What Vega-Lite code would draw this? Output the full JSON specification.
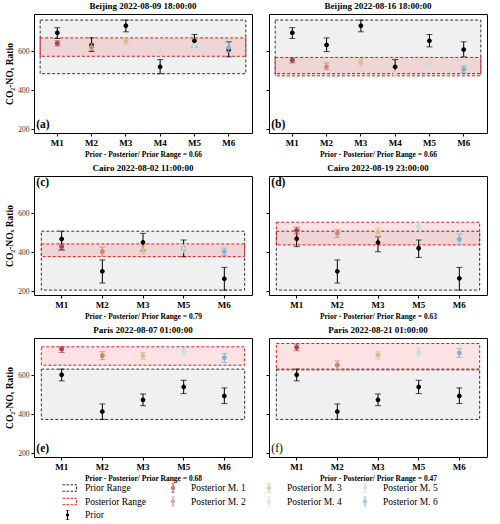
{
"$schema": "https://vega.github.io/schema/vega-lite/v6.json",
"background": "white",
"padding": {"left": 4, "top": 1, "right": 4, "bottom": 2},
"datasets": {
"pts": [
{"panel":"a","model":"M1","series":"Prior","value":694,"lo":665,"hi":720},
{"panel":"a","model":"M2","series":"Prior","value":632,"lo":598,"hi":668},
{"panel":"a","model":"M3","series":"Prior","value":730,"lo":699,"hi":759},
{"panel":"a","model":"M4","series":"Prior","value":520,"lo":485,"hi":557},
{"panel":"a","model":"M5","series":"Prior","value":653,"lo":622,"hi":685},
{"panel":"a","model":"M6","series":"Prior","value":608,"lo":571,"hi":648},
{"panel":"a","model":"M1","series":"Posterior M. 1","value":640,"lo":627,"hi":653},
{"panel":"a","model":"M2","series":"Posterior M. 2","value":620,"lo":603,"hi":640},
{"panel":"a","model":"M3","series":"Posterior M. 3","value":651,"lo":633,"hi":668},
{"panel":"a","model":"M4","series":"Posterior M. 4","value":596,"lo":580,"hi":615},
{"panel":"a","model":"M5","series":"Posterior M. 5","value":627,"lo":614,"hi":640},
{"panel":"a","model":"M6","series":"Posterior M. 6","value":618,"lo":595,"hi":645},
{"panel":"b","model":"M1","series":"Prior","value":694,"lo":665,"hi":720},
{"panel":"b","model":"M2","series":"Prior","value":632,"lo":598,"hi":668},
{"panel":"b","model":"M3","series":"Prior","value":730,"lo":699,"hi":759},
{"panel":"b","model":"M4","series":"Prior","value":520,"lo":485,"hi":557},
{"panel":"b","model":"M5","series":"Prior","value":653,"lo":622,"hi":685},
{"panel":"b","model":"M6","series":"Prior","value":608,"lo":571,"hi":648},
{"panel":"b","model":"M1","series":"Posterior M. 1","value":554,"lo":540,"hi":566},
{"panel":"b","model":"M2","series":"Posterior M. 2","value":520,"lo":505,"hi":540},
{"panel":"b","model":"M3","series":"Posterior M. 3","value":545,"lo":525,"hi":562},
{"panel":"b","model":"M4","series":"Posterior M. 4","value":485,"lo":472,"hi":503},
{"panel":"b","model":"M5","series":"Posterior M. 5","value":537,"lo":518,"hi":557},
{"panel":"b","model":"M6","series":"Posterior M. 6","value":508,"lo":492,"hi":525},
{"panel":"c","model":"M1","series":"Prior","value":468,"lo":412,"hi":508},
{"panel":"c","model":"M2","series":"Prior","value":303,"lo":243,"hi":361},
{"panel":"c","model":"M3","series":"Prior","value":451,"lo":408,"hi":497},
{"panel":"c","model":"M5","series":"Prior","value":420,"lo":377,"hi":463},
{"panel":"c","model":"M6","series":"Prior","value":265,"lo":207,"hi":323},
{"panel":"c","model":"M1","series":"Posterior M. 1","value":429,"lo":412,"hi":443},
{"panel":"c","model":"M2","series":"Posterior M. 2","value":403,"lo":380,"hi":426},
{"panel":"c","model":"M3","series":"Posterior M. 3","value":414,"lo":393,"hi":434},
{"panel":"c","model":"M5","series":"Posterior M. 5","value":420,"lo":398,"hi":439},
{"panel":"c","model":"M6","series":"Posterior M. 6","value":403,"lo":384,"hi":422},
{"panel":"d","model":"M1","series":"Prior","value":470,"lo":429,"hi":515},
{"panel":"d","model":"M2","series":"Prior","value":303,"lo":243,"hi":361},
{"panel":"d","model":"M3","series":"Prior","value":450,"lo":403,"hi":480},
{"panel":"d","model":"M5","series":"Prior","value":421,"lo":374,"hi":463},
{"panel":"d","model":"M6","series":"Prior","value":267,"lo":207,"hi":323},
{"panel":"d","model":"M1","series":"Posterior M. 1","value":511,"lo":494,"hi":528},
{"panel":"d","model":"M2","series":"Posterior M. 2","value":497,"lo":476,"hi":515},
{"panel":"d","model":"M3","series":"Posterior M. 3","value":503,"lo":479,"hi":525},
{"panel":"d","model":"M5","series":"Posterior M. 5","value":532,"lo":515,"hi":554},
{"panel":"d","model":"M6","series":"Posterior M. 6","value":467,"lo":440,"hi":494},
{"panel":"e","model":"M1","series":"Prior","value":602,"lo":571,"hi":631},
{"panel":"e","model":"M2","series":"Prior","value":414,"lo":374,"hi":453},
{"panel":"e","model":"M3","series":"Prior","value":474,"lo":444,"hi":504},
{"panel":"e","model":"M5","series":"Prior","value":540,"lo":506,"hi":574},
{"panel":"e","model":"M6","series":"Prior","value":494,"lo":455,"hi":535},
{"panel":"e","model":"M1","series":"Posterior M. 1","value":733,"lo":716,"hi":745},
{"panel":"e","model":"M2","series":"Posterior M. 2","value":699,"lo":679,"hi":720},
{"panel":"e","model":"M3","series":"Posterior M. 3","value":699,"lo":682,"hi":716},
{"panel":"e","model":"M5","series":"Posterior M. 5","value":721,"lo":704,"hi":737},
{"panel":"e","model":"M6","series":"Posterior M. 6","value":689,"lo":665,"hi":711},
{"panel":"f","model":"M1","series":"Prior","value":602,"lo":571,"hi":631},
{"panel":"f","model":"M2","series":"Prior","value":414,"lo":374,"hi":453},
{"panel":"f","model":"M3","series":"Prior","value":474,"lo":444,"hi":504},
{"panel":"f","model":"M5","series":"Prior","value":540,"lo":506,"hi":574},
{"panel":"f","model":"M6","series":"Prior","value":494,"lo":455,"hi":535},
{"panel":"f","model":"M1","series":"Posterior M. 1","value":742,"lo":725,"hi":759},
{"panel":"f","model":"M2","series":"Posterior M. 2","value":651,"lo":628,"hi":673},
{"panel":"f","model":"M3","series":"Posterior M. 3","value":703,"lo":682,"hi":720},
{"panel":"f","model":"M5","series":"Posterior M. 5","value":716,"lo":699,"hi":737},
{"panel":"f","model":"M6","series":"Posterior M. 6","value":713,"lo":691,"hi":737}
],
"boxes": [
{"panel":"a","series":"Prior Range","model":"M1","last":"M6","lo":485,"hi":759,"tag":"(a)"},
{"panel":"a","series":"Posterior Range","model":"M1","last":"M6","lo":574,"hi":668,"tag":"(a)"},
{"panel":"b","series":"Prior Range","model":"M1","last":"M6","lo":485,"hi":759,"tag":"(b)"},
{"panel":"b","series":"Posterior Range","model":"M1","last":"M6","lo":474,"hi":568,"tag":"(b)"},
{"panel":"c","series":"Prior Range","model":"M1","last":"M6","lo":207,"hi":508,"tag":"(c)"},
{"panel":"c","series":"Posterior Range","model":"M1","last":"M6","lo":378,"hi":443,"tag":"(c)"},
{"panel":"d","series":"Prior Range","model":"M1","last":"M6","lo":207,"hi":508,"tag":"(d)"},
{"panel":"d","series":"Posterior Range","model":"M1","last":"M6","lo":438,"hi":554,"tag":"(d)"},
{"panel":"e","series":"Prior Range","model":"M1","last":"M6","lo":374,"hi":631,"tag":"(e)"},
{"panel":"e","series":"Posterior Range","model":"M1","last":"M6","lo":651,"hi":745,"tag":"(e)"},
{"panel":"f","series":"Prior Range","model":"M1","last":"M6","lo":374,"hi":631,"tag":"(f)"},
{"panel":"f","series":"Posterior Range","model":"M1","last":"M6","lo":627,"hi":762,"tag":"(f)"}
]
},
"spacing": 5,
"vconcat": [
{"hconcat": [
{"width": 218, "height": 119, "title": "Beijing 2022-08-09 18:00:00",
"layer": [
{"data": {"name": "boxes"}, "transform": [{"filter": "datum.panel == 'a'"}],
"mark": {"type": "rect", "strokeDash": [3, 2], "strokeWidth": 1},
"encoding": {
"x": {"field": "model", "type": "nominal", "bandPosition": 0, "title": "Prior - Posterior/ Prior Range = 0.66", "scale": {"type": "band", "paddingInner": 0, "paddingOuter": 0.18}},
"x2": {"field": "last", "bandPosition": 1},
"y": {"field": "lo", "type": "quantitative", "title": "CO₂-NOₓ Ratio", "scale": {"domain": [182, 790], "nice": false, "zero": false}, "axis": {"values": [200, 400, 600]}},
"y2": {"field": "hi"},
"fill": {"field": "series", "type": "nominal", "scale": {"domain": ["Posterior Range", "Prior Range"], "range": ["rgba(232,60,70,0.15)", "#f0f0f0"]}, "legend": null},
"stroke": {"field": "series", "type": "nominal", "scale": {"domain": ["Prior Range", "Posterior Range"], "range": ["#333333", "#e41a1c"]},
"legend": {"orient": "none", "legendX": 28, "legendY": 469, "title": null, "direction": "vertical", "symbolSize": 100, "clipHeight": 10, "labelOffset": 12, "rowPadding": 3.5, "symbolType": "M-1.8,-0.65H1.8V0.65H-1.8Z", "symbolDash": [2.5, 1.5], "symbolFillColor": "#ffffff", "symbolStrokeWidth": 1}}
}},
{"data": {"name": "pts"}, "transform": [{"filter": "datum.panel == 'a' && datum.series == 'Prior'"}],
"mark": {"type": "errorbar", "color": "#000000", "ticks": true, "size": 6, "thickness": 1},
"encoding": {"x": {"field": "model", "type": "nominal", "title": "Prior - Posterior/ Prior Range = 0.66"}, "y": {"field": "lo", "type": "quantitative", "title": "CO₂-NOₓ Ratio"}, "y2": {"field": "hi"}}},
{"data": {"name": "pts"}, "transform": [{"filter": "datum.panel == 'a' && datum.series == 'Prior'"}],
"mark": {"type": "point", "filled": false, "fill": "#000000", "color": "#000000", "strokeWidth": 1, "size": 15, "opacity": 1},
"encoding": {"x": {"field": "model", "type": "nominal", "title": "Prior - Posterior/ Prior Range = 0.66"}, "y": {"field": "value", "type": "quantitative", "title": "CO₂-NOₓ Ratio"},
"opacity": {"field": "series", "type": "ordinal", "scale": {"domain": ["Prior"], "range": [1]},
"legend": {"orient": "none", "legendX": 28, "legendY": 496, "title": null, "symbolSize": 100, "clipHeight": 10, "labelOffset": 12, "symbolType": "M0,-1V1M-0.35,-1H0.35M-0.35,1H0.35M-0.25,0A0.25,0.25 0 1,1 0.25,0A0.25,0.25 0 1,1 -0.25,0Z", "symbolStrokeWidth": 1}}}},
{"data": {"name": "pts"}, "transform": [{"filter": "datum.panel == 'a' && datum.series != 'Prior'"}],
"mark": {"type": "errorbar", "ticks": true, "size": 6, "thickness": 1},
"encoding": {"x": {"field": "model", "type": "nominal", "title": "Prior - Posterior/ Prior Range = 0.66"}, "y": {"field": "lo", "type": "quantitative", "title": "CO₂-NOₓ Ratio"}, "y2": {"field": "hi"},
"color": {"field": "series", "type": "nominal", "scale": {"domain": ["Posterior M. 1", "Posterior M. 2", "Posterior M. 3", "Posterior M. 4", "Posterior M. 5", "Posterior M. 6"], "range": ["#a9444e", "#c98570", "#e0b98c", "#e0dcb8", "#c4dfdc", "#7fb2d3"]},
"legend": {"orient": "none", "legendX": 133, "legendY": 469, "title": null, "columns": 3, "symbolSize": 100, "clipHeight": 10, "labelOffset": 12, "rowPadding": 3.5, "columnPadding": 17, "symbolType": "M0,-1V1M-0.35,-1H0.35M-0.35,1H0.35M-0.3,0A0.3,0.3 0 1,1 0.3,0A0.3,0.3 0 1,1 -0.3,0Z"}}}},
{"data": {"name": "pts"}, "transform": [{"filter": "datum.panel == 'a' && datum.series != 'Prior'"}],
"mark": {"type": "point", "filled": true, "size": 24, "opacity": 1},
"encoding": {"x": {"field": "model", "type": "nominal", "title": "Prior - Posterior/ Prior Range = 0.66"}, "y": {"field": "value", "type": "quantitative", "title": "CO₂-NOₓ Ratio"}, "color": {"field": "series", "type": "nominal"}}},
{"data": {"name": "boxes"}, "transform": [{"filter": "datum.panel == 'a' && datum.series == 'Prior Range'"}],
"mark": {"type": "text", "font": "Liberation Serif", "fontWeight": "bold", "fontSize": 11.5, "align": "left", "baseline": "middle", "dx": -4},
"encoding": {"x": {"field": "model", "type": "nominal", "bandPosition": 0, "title": "Prior - Posterior/ Prior Range = 0.66"}, "y": {"datum": 222, "type": "quantitative", "title": "CO₂-NOₓ Ratio"}, "text": {"field": "tag"}}}
]},
{"width": 218, "height": 119, "title": "Beijing 2022-08-16 18:00:00",
"layer": [
{"data": {"name": "boxes"}, "transform": [{"filter": "datum.panel == 'b'"}],
"mark": {"type": "rect", "strokeDash": [3, 2], "strokeWidth": 1},
"encoding": {
"x": {"field": "model", "type": "nominal", "bandPosition": 0, "title": "Prior - Posterior/ Prior Range = 0.66", "scale": {"type": "band", "paddingInner": 0, "paddingOuter": 0.18}},
"x2": {"field": "last", "bandPosition": 1},
"y": {"field": "lo", "type": "quantitative", "title": null, "scale": {"domain": [182, 790], "nice": false, "zero": false}, "axis": {"values": [200, 400, 600], "labels": false}},
"y2": {"field": "hi"},
"fill": {"field": "series", "type": "nominal", "legend": null},
"stroke": {"field": "series", "type": "nominal"}
}},
{"data": {"name": "pts"}, "transform": [{"filter": "datum.panel == 'b' && datum.series == 'Prior'"}],
"mark": {"type": "errorbar", "color": "#000000", "ticks": true, "size": 6, "thickness": 1},
"encoding": {"x": {"field": "model", "type": "nominal", "title": "Prior - Posterior/ Prior Range = 0.66"}, "y": {"field": "lo", "type": "quantitative", "title": null}, "y2": {"field": "hi"}}},
{"data": {"name": "pts"}, "transform": [{"filter": "datum.panel == 'b' && datum.series == 'Prior'"}],
"mark": {"type": "point", "filled": false, "fill": "#000000", "color": "#000000", "strokeWidth": 1, "size": 15, "opacity": 1},
"encoding": {"x": {"field": "model", "type": "nominal", "title": "Prior - Posterior/ Prior Range = 0.66"}, "y": {"field": "value", "type": "quantitative", "title": null}}},
{"data": {"name": "pts"}, "transform": [{"filter": "datum.panel == 'b' && datum.series != 'Prior'"}],
"mark": {"type": "errorbar", "ticks": true, "size": 6, "thickness": 1},
"encoding": {"x": {"field": "model", "type": "nominal", "title": "Prior - Posterior/ Prior Range = 0.66"}, "y": {"field": "lo", "type": "quantitative", "title": null}, "y2": {"field": "hi"}, "color": {"field": "series", "type": "nominal"}}},
{"data": {"name": "pts"}, "transform": [{"filter": "datum.panel == 'b' && datum.series != 'Prior'"}],
"mark": {"type": "point", "filled": true, "size": 24, "opacity": 1},
"encoding": {"x": {"field": "model", "type": "nominal", "title": "Prior - Posterior/ Prior Range = 0.66"}, "y": {"field": "value", "type": "quantitative", "title": null}, "color": {"field": "series", "type": "nominal"}}},
{"data": {"name": "boxes"}, "transform": [{"filter": "datum.panel == 'b' && datum.series == 'Prior Range'"}],
"mark": {"type": "text", "font": "Liberation Serif", "fontWeight": "bold", "fontSize": 11.5, "align": "left", "baseline": "middle", "dx": -4},
"encoding": {"x": {"field": "model", "type": "nominal", "bandPosition": 0, "title": "Prior - Posterior/ Prior Range = 0.66"}, "y": {"datum": 222, "type": "quantitative", "title": null}, "text": {"field": "tag"}}}
]}
], "spacing": 12},
{"hconcat": [
{"width": 218, "height": 119, "title": "Cairo 2022-08-02 11:00:00",
"layer": [
{"data": {"name": "boxes"}, "transform": [{"filter": "datum.panel == 'c'"}],
"mark": {"type": "rect", "strokeDash": [3, 2], "strokeWidth": 1},
"encoding": {
"x": {"field": "model", "type": "nominal", "bandPosition": 0, "title": "Prior - Posterior/ Prior Range = 0.79", "scale": {"type": "band", "paddingInner": 0, "paddingOuter": 0.18}},
"x2": {"field": "last", "bandPosition": 1},
"y": {"field": "lo", "type": "quantitative", "title": "CO₂-NOₓ Ratio", "scale": {"domain": [182, 790], "nice": false, "zero": false}, "axis": {"values": [200, 400, 600]}},
"y2": {"field": "hi"},
"fill": {"field": "series", "type": "nominal", "legend": null},
"stroke": {"field": "series", "type": "nominal"}
}},
{"data": {"name": "pts"}, "transform": [{"filter": "datum.panel == 'c' && datum.series == 'Prior'"}],
"mark": {"type": "errorbar", "color": "#000000", "ticks": true, "size": 6, "thickness": 1},
"encoding": {"x": {"field": "model", "type": "nominal", "title": "Prior - Posterior/ Prior Range = 0.79"}, "y": {"field": "lo", "type": "quantitative", "title": "CO₂-NOₓ Ratio"}, "y2": {"field": "hi"}}},
{"data": {"name": "pts"}, "transform": [{"filter": "datum.panel == 'c' && datum.series == 'Prior'"}],
"mark": {"type": "point", "filled": false, "fill": "#000000", "color": "#000000", "strokeWidth": 1, "size": 15, "opacity": 1},
"encoding": {"x": {"field": "model", "type": "nominal", "title": "Prior - Posterior/ Prior Range = 0.79"}, "y": {"field": "value", "type": "quantitative", "title": "CO₂-NOₓ Ratio"}}},
{"data": {"name": "pts"}, "transform": [{"filter": "datum.panel == 'c' && datum.series != 'Prior'"}],
"mark": {"type": "errorbar", "ticks": true, "size": 6, "thickness": 1},
"encoding": {"x": {"field": "model", "type": "nominal", "title": "Prior - Posterior/ Prior Range = 0.79"}, "y": {"field": "lo", "type": "quantitative", "title": "CO₂-NOₓ Ratio"}, "y2": {"field": "hi"}, "color": {"field": "series", "type": "nominal"}}},
{"data": {"name": "pts"}, "transform": [{"filter": "datum.panel == 'c' && datum.series != 'Prior'"}],
"mark": {"type": "point", "filled": true, "size": 24, "opacity": 1},
"encoding": {"x": {"field": "model", "type": "nominal", "title": "Prior - Posterior/ Prior Range = 0.79"}, "y": {"field": "value", "type": "quantitative", "title": "CO₂-NOₓ Ratio"}, "color": {"field": "series", "type": "nominal"}}},
{"data": {"name": "boxes"}, "transform": [{"filter": "datum.panel == 'c' && datum.series == 'Prior Range'"}],
"mark": {"type": "text", "font": "Liberation Serif", "fontWeight": "bold", "fontSize": 11.5, "align": "left", "baseline": "middle", "dx": -5},
"encoding": {"x": {"field": "model", "type": "nominal", "bandPosition": 0, "title": "Prior - Posterior/ Prior Range = 0.79"}, "y": {"datum": 752, "type": "quantitative", "title": "CO₂-NOₓ Ratio"}, "text": {"field": "tag"}}}
]},
{"width": 218, "height": 119, "title": "Cairo 2022-08-19 23:00:00",
"layer": [
{"data": {"name": "boxes"}, "transform": [{"filter": "datum.panel == 'd'"}],
"mark": {"type": "rect", "strokeDash": [3, 2], "strokeWidth": 1},
"encoding": {
"x": {"field": "model", "type": "nominal", "bandPosition": 0, "title": "Prior - Posterior/ Prior Range = 0.63", "scale": {"type": "band", "paddingInner": 0, "paddingOuter": 0.18}},
"x2": {"field": "last", "bandPosition": 1},
"y": {"field": "lo", "type": "quantitative", "title": null, "scale": {"domain": [182, 790], "nice": false, "zero": false}, "axis": {"values": [200, 400, 600], "labels": false}},
"y2": {"field": "hi"},
"fill": {"field": "series", "type": "nominal", "legend": null},
"stroke": {"field": "series", "type": "nominal"}
}},
{"data": {"name": "pts"}, "transform": [{"filter": "datum.panel == 'd' && datum.series == 'Prior'"}],
"mark": {"type": "errorbar", "color": "#000000", "ticks": true, "size": 6, "thickness": 1},
"encoding": {"x": {"field": "model", "type": "nominal", "title": "Prior - Posterior/ Prior Range = 0.63"}, "y": {"field": "lo", "type": "quantitative", "title": null}, "y2": {"field": "hi"}}},
{"data": {"name": "pts"}, "transform": [{"filter": "datum.panel == 'd' && datum.series == 'Prior'"}],
"mark": {"type": "point", "filled": false, "fill": "#000000", "color": "#000000", "strokeWidth": 1, "size": 15, "opacity": 1},
"encoding": {"x": {"field": "model", "type": "nominal", "title": "Prior - Posterior/ Prior Range = 0.63"}, "y": {"field": "value", "type": "quantitative", "title": null}}},
{"data": {"name": "pts"}, "transform": [{"filter": "datum.panel == 'd' && datum.series != 'Prior'"}],
"mark": {"type": "errorbar", "ticks": true, "size": 6, "thickness": 1},
"encoding": {"x": {"field": "model", "type": "nominal", "title": "Prior - Posterior/ Prior Range = 0.63"}, "y": {"field": "lo", "type": "quantitative", "title": null}, "y2": {"field": "hi"}, "color": {"field": "series", "type": "nominal"}}},
{"data": {"name": "pts"}, "transform": [{"filter": "datum.panel == 'd' && datum.series != 'Prior'"}],
"mark": {"type": "point", "filled": true, "size": 24, "opacity": 1},
"encoding": {"x": {"field": "model", "type": "nominal", "title": "Prior - Posterior/ Prior Range = 0.63"}, "y": {"field": "value", "type": "quantitative", "title": null}, "color": {"field": "series", "type": "nominal"}}},
{"data": {"name": "boxes"}, "transform": [{"filter": "datum.panel == 'd' && datum.series == 'Prior Range'"}],
"mark": {"type": "text", "font": "Liberation Serif", "fontWeight": "bold", "fontSize": 11.5, "align": "left", "baseline": "middle", "dx": -5},
"encoding": {"x": {"field": "model", "type": "nominal", "bandPosition": 0, "title": "Prior - Posterior/ Prior Range = 0.63"}, "y": {"datum": 752, "type": "quantitative", "title": null}, "text": {"field": "tag"}}}
]}
], "spacing": 12},
{"hconcat": [
{"width": 218, "height": 119, "title": "Paris 2022-08-07 01:00:00",
"layer": [
{"data": {"name": "boxes"}, "transform": [{"filter": "datum.panel == 'e'"}],
"mark": {"type": "rect", "strokeDash": [3, 2], "strokeWidth": 1},
"encoding": {
"x": {"field": "model", "type": "nominal", "bandPosition": 0, "title": "Prior - Posterior/ Prior Range = 0.68", "scale": {"type": "band", "paddingInner": 0, "paddingOuter": 0.18}},
"x2": {"field": "last", "bandPosition": 1},
"y": {"field": "lo", "type": "quantitative", "title": "CO₂-NOₓ Ratio", "scale": {"domain": [182, 790], "nice": false, "zero": false}, "axis": {"values": [200, 400, 600]}},
"y2": {"field": "hi"},
"fill": {"field": "series", "type": "nominal", "legend": null},
"stroke": {"field": "series", "type": "nominal"}
}},
{"data": {"name": "pts"}, "transform": [{"filter": "datum.panel == 'e' && datum.series == 'Prior'"}],
"mark": {"type": "errorbar", "color": "#000000", "ticks": true, "size": 6, "thickness": 1},
"encoding": {"x": {"field": "model", "type": "nominal", "title": "Prior - Posterior/ Prior Range = 0.68"}, "y": {"field": "lo", "type": "quantitative", "title": "CO₂-NOₓ Ratio"}, "y2": {"field": "hi"}}},
{"data": {"name": "pts"}, "transform": [{"filter": "datum.panel == 'e' && datum.series == 'Prior'"}],
"mark": {"type": "point", "filled": false, "fill": "#000000", "color": "#000000", "strokeWidth": 1, "size": 15, "opacity": 1},
"encoding": {"x": {"field": "model", "type": "nominal", "title": "Prior - Posterior/ Prior Range = 0.68"}, "y": {"field": "value", "type": "quantitative", "title": "CO₂-NOₓ Ratio"}}},
{"data": {"name": "pts"}, "transform": [{"filter": "datum.panel == 'e' && datum.series != 'Prior'"}],
"mark": {"type": "errorbar", "ticks": true, "size": 6, "thickness": 1},
"encoding": {"x": {"field": "model", "type": "nominal", "title": "Prior - Posterior/ Prior Range = 0.68"}, "y": {"field": "lo", "type": "quantitative", "title": "CO₂-NOₓ Ratio"}, "y2": {"field": "hi"}, "color": {"field": "series", "type": "nominal"}}},
{"data": {"name": "pts"}, "transform": [{"filter": "datum.panel == 'e' && datum.series != 'Prior'"}],
"mark": {"type": "point", "filled": true, "size": 24, "opacity": 1},
"encoding": {"x": {"field": "model", "type": "nominal", "title": "Prior - Posterior/ Prior Range = 0.68"}, "y": {"field": "value", "type": "quantitative", "title": "CO₂-NOₓ Ratio"}, "color": {"field": "series", "type": "nominal"}}},
{"data": {"name": "boxes"}, "transform": [{"filter": "datum.panel == 'e' && datum.series == 'Prior Range'"}],
"mark": {"type": "text", "font": "Liberation Serif", "fontWeight": "bold", "fontSize": 11.5, "align": "left", "baseline": "middle", "dx": -5},
"encoding": {"x": {"field": "model", "type": "nominal", "bandPosition": 0, "title": "Prior - Posterior/ Prior Range = 0.68"}, "y": {"datum": 222, "type": "quantitative", "title": "CO₂-NOₓ Ratio"}, "text": {"field": "tag"}}}
]},
{"width": 218, "height": 119, "title": "Paris 2022-08-21 01:00:00",
"layer": [
{"data": {"name": "boxes"}, "transform": [{"filter": "datum.panel == 'f'"}],
"mark": {"type": "rect", "strokeDash": [3, 2], "strokeWidth": 1},
"encoding": {
"x": {"field": "model", "type": "nominal", "bandPosition": 0, "title": "Prior - Posterior/ Prior Range = 0.47", "scale": {"type": "band", "paddingInner": 0, "paddingOuter": 0.18}},
"x2": {"field": "last", "bandPosition": 1},
"y": {"field": "lo", "type": "quantitative", "title": null, "scale": {"domain": [182, 790], "nice": false, "zero": false}, "axis": {"values": [200, 400, 600], "labels": false}},
"y2": {"field": "hi"},
"fill": {"field": "series", "type": "nominal", "legend": null},
"stroke": {"field": "series", "type": "nominal"}
}},
{"data": {"name": "pts"}, "transform": [{"filter": "datum.panel == 'f' && datum.series == 'Prior'"}],
"mark": {"type": "errorbar", "color": "#000000", "ticks": true, "size": 6, "thickness": 1},
"encoding": {"x": {"field": "model", "type": "nominal", "title": "Prior - Posterior/ Prior Range = 0.47"}, "y": {"field": "lo", "type": "quantitative", "title": null}, "y2": {"field": "hi"}}},
{"data": {"name": "pts"}, "transform": [{"filter": "datum.panel == 'f' && datum.series == 'Prior'"}],
"mark": {"type": "point", "filled": false, "fill": "#000000", "color": "#000000", "strokeWidth": 1, "size": 15, "opacity": 1},
"encoding": {"x": {"field": "model", "type": "nominal", "title": "Prior - Posterior/ Prior Range = 0.47"}, "y": {"field": "value", "type": "quantitative", "title": null}}},
{"data": {"name": "pts"}, "transform": [{"filter": "datum.panel == 'f' && datum.series != 'Prior'"}],
"mark": {"type": "errorbar", "ticks": true, "size": 6, "thickness": 1},
"encoding": {"x": {"field": "model", "type": "nominal", "title": "Prior - Posterior/ Prior Range = 0.47"}, "y": {"field": "lo", "type": "quantitative", "title": null}, "y2": {"field": "hi"}, "color": {"field": "series", "type": "nominal"}}},
{"data": {"name": "pts"}, "transform": [{"filter": "datum.panel == 'f' && datum.series != 'Prior'"}],
"mark": {"type": "point", "filled": true, "size": 24, "opacity": 1},
"encoding": {"x": {"field": "model", "type": "nominal", "title": "Prior - Posterior/ Prior Range = 0.47"}, "y": {"field": "value", "type": "quantitative", "title": null}, "color": {"field": "series", "type": "nominal"}}},
{"data": {"name": "boxes"}, "transform": [{"filter": "datum.panel == 'f' && datum.series == 'Prior Range'"}],
"mark": {"type": "text", "font": "Liberation Serif", "fontWeight": "normal", "fontSize": 11.5, "align": "left", "baseline": "middle", "dx": -5},
"encoding": {"x": {"field": "model", "type": "nominal", "bandPosition": 0, "title": "Prior - Posterior/ Prior Range = 0.47"}, "y": {"datum": 222, "type": "quantitative", "title": null}, "text": {"field": "tag"}}}
]}
], "spacing": 12}
],
"config": {
"font": "Liberation Serif",
"view": {"stroke": "#000000", "strokeWidth": 1},
"title": {"font": "Liberation Serif", "fontSize": 9, "fontWeight": "bold", "color": "#000000", "offset": 3},
"axis": {"grid": false, "domain": false, "ticks": true, "tickColor": "#000000", "tickSize": 3, "labelFont": "Liberation Serif", "labelColor": "#000000", "titleFont": "Liberation Serif", "titleColor": "#000000", "titleFontWeight": "bold"},
"axisX": {"labelAngle": 0, "labelFontWeight": "bold", "labelFontSize": 9, "labelPadding": 2, "titleFontSize": 7.5, "titlePadding": 3},
"axisY": {"labelFontSize": 7.5, "labelPadding": 2, "titleFontSize": 9.5, "titlePadding": 3, "labelColor": "#333333"},
"legend": {"labelFont": "Liberation Serif", "labelFontSize": 9.5, "labelColor": "#000000", "symbolBaseFillColor": "#ffffff"}
}
}
